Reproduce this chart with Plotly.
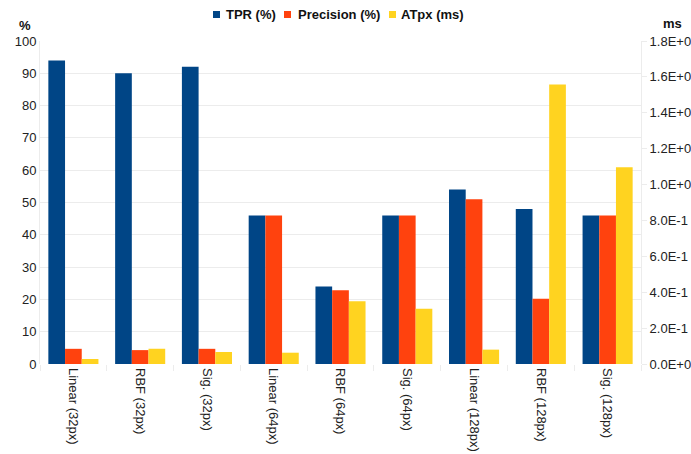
import plotly.graph_objects as go

categories = ["Linear (32px)", "RBF (32px)", "Sig. (32px)",
              "Linear (64px)", "RBF (64px)", "Sig. (64px)",
              "Linear (128px)", "RBF (128px)", "Sig. (128px)"]
tpr = [94, 90, 92, 46, 24, 46, 54, 48, 46]
precision = [4.7, 4.3, 4.7, 46, 22.8, 46, 51, 20.2, 46]
atpx_ms = [0.028, 0.085, 0.067, 0.063, 0.349, 0.308, 0.08, 1.557, 1.096]

series_names = ["TPR (%)", "Precision (%)", "ATpx (ms)"]
series_colors = ["#004586", "#ff420e", "#ffd320"]

left_ticks = list(range(0, 101, 10))
right_tickvals = [0.0, 0.2, 0.4, 0.6, 0.8, 1.0, 1.2, 1.4, 1.6, 1.8]
right_ticktext = ["0.0E+0", "2.0E-1", "4.0E-1", "6.0E-1", "8.0E-1",
                  "1.0E+0", "1.2E+0", "1.4E+0", "1.6E+0", "1.8E+0"]

FONT = "Liberation Sans, Arial, sans-serif"
GRID = "#ececec"
TEXT = "#222222"

# plot area in pixels (used for the legend placed above it)
W, H = 691, 454
ML, MR, MT, MB = 40, 50, 41, 90
PW, PH = W - ML - MR, H - MT - MB


def px_x(px):
    return (px - ML) / PW


def px_y(py):
    return (H - MB - py) / PH


fig = go.Figure()
for name, vals, color, off, axis in zip(
        series_names, [tpr, precision, atpx_ms], series_colors,
        [-0.375, -0.125, 0.125], ["y", "y", "y2"]):
    fig.add_trace(go.Bar(x=categories, y=vals, name=name,
                         marker=dict(color=color, line=dict(width=0)),
                         width=0.25, offset=off, yaxis=axis, showlegend=False))

# compact legend: small square swatch followed by bold label
legend_items = [(213, 224), (284, 296), (389, 399)]
shapes = []
annotations = []
for (sq_x, txt_x), name, color in zip(legend_items, series_names, series_colors):
    shapes.append(dict(type="rect", xref="paper", yref="paper",
                       x0=px_x(sq_x), x1=px_x(sq_x + 7),
                       y0=px_y(18), y1=px_y(11),
                       fillcolor=color, line=dict(width=0)))
    annotations.append(dict(text=f"<b>{name}</b>", xref="paper", yref="paper",
                            x=px_x(txt_x), y=px_y(14.5), xanchor="left",
                            yanchor="middle", showarrow=False,
                            font=dict(family=FONT, size=13, color="#111111")))

annotations += [
    dict(text="<b>%</b>", xref="paper", yref="paper", x=px_x(25), y=px_y(25),
         xanchor="center", yanchor="middle", showarrow=False,
         font=dict(family=FONT, size=13, color="#111111")),
    dict(text="<b>ms</b>", xref="paper", yref="paper", x=px_x(672), y=px_y(23),
         xanchor="center", yanchor="middle", showarrow=False,
         font=dict(family=FONT, size=13, color="#111111")),
]

fig.update_layout(
    width=W, height=H,
    margin=dict(l=ML, r=MR, t=MT, b=MB),
    paper_bgcolor="white", plot_bgcolor="white",
    font=dict(family=FONT, size=13, color=TEXT),
    barmode="overlay",
    showlegend=False,
    xaxis=dict(type="category", tickangle=90, tickson="boundaries",
               ticks="outside", ticklen=6, tickcolor=GRID,
               showline=False, showgrid=False, automargin=False,
               ticklabelstandoff=3,
               tickfont=dict(family=FONT, size=13, color=TEXT)),
    yaxis=dict(range=[0, 100], tickvals=left_ticks, showgrid=True, gridcolor=GRID,
               showline=True, linecolor=GRID, ticks="", zeroline=False,
               automargin=False,
               tickfont=dict(family=FONT, size=13, color=TEXT)),
    yaxis2=dict(range=[0, 1.8], tickvals=right_tickvals, ticktext=right_ticktext,
                overlaying="y", side="right", showgrid=False,
                showline=True, linecolor=GRID, ticks="outside", ticklen=5,
                tickcolor=GRID, zeroline=False, automargin=False,
                tickfont=dict(family=FONT, size=13, color=TEXT)),
    shapes=shapes,
    annotations=annotations,
)

fig.write_html("out.html")
